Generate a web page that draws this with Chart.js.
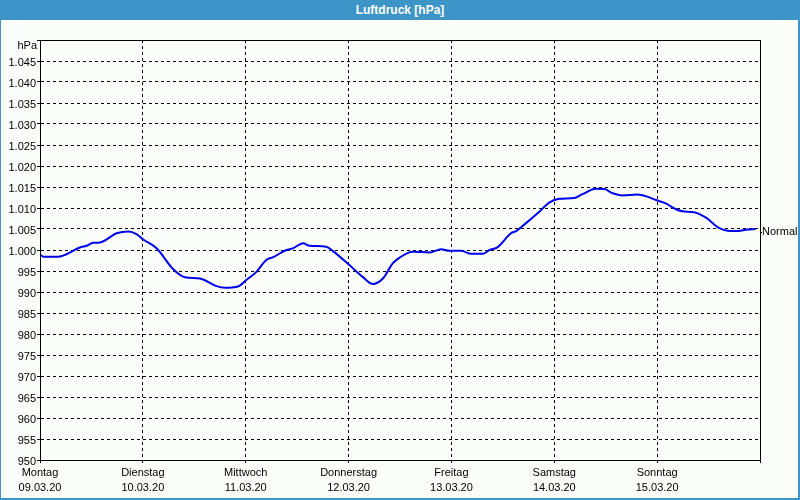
<!DOCTYPE html>
<html>
<head>
<meta charset="utf-8">
<script src="https://cdn.jsdelivr.net/npm/chart.js@4/dist/chart.umd.min.js"></script>
<style>
  body { margin: 0; background: #fbfdfb; }
  #wrap { position: relative; width: 800px; height: 500px; box-sizing: border-box;
          border-left: 1px solid #3d94c6; border-right: 2px solid #3d94c6; border-bottom: 2px solid #3d94c6;
          background: #fbfdfb; }
  #title { position: absolute; left: -1px; top: 0; width: 800px; height: 20px; background: #3d94c6;
           color: #fff; font: bold 12px "Liberation Sans", sans-serif; line-height: 20px; text-align: center; }
  #box { position: absolute; left: 0; top: 20px; width: 797px; height: 478px; }
</style>
</head>
<body>
<div id="wrap">
  <div id="title">Luftdruck [hPa]</div>
  <div id="box"><canvas id="pressureChart"></canvas></div>
</div>
<script>
const dayNames = ["Montag", "Dienstag", "Mittwoch", "Donnerstag", "Freitag", "Samstag", "Sonntag"]
const dayDates = ["09.03.20", "10.03.20", "11.03.20", "12.03.20", "13.03.20", "14.03.20", "15.03.20"]

// hours since Monday 00:00
const hours = [0, 0.8, 4.3, 6.2, 9.3, 10.9, 12.4, 14, 17.9, 20.6, 22.5, 24.1, 27.2, 31.1, 33.8, 37.3,
    41.2, 43.1, 46.2, 48.2, 50.5, 52.8, 54.4, 57.5, 59, 61.4, 62.9, 66.8, 68.3, 72.2, 75.3, 77.7,
    80, 82.3, 83.9, 87, 90.9, 93.6, 95.5, 98.3, 100.6, 103.3, 104.9, 106.8, 109.9, 111.1, 113.4, 116.5,
    118.8, 121.2, 124.7, 126.6, 129.7, 131.7, 133.6, 135.9, 139.4, 141.7, 143.7, 146, 148.4, 149.9,
    152.6, 155.4, 158.5, 160.4, 162.3, 164.7, 167]
const pressure = [998.9, 998.4, 998.4, 999.0, 1000.6, 1001.0, 1001.7, 1001.8, 1004.0, 1004.4, 1003.8, 1002.5, 1000.4, 995.4, 993.5, 993.2,
    991.4, 991.0, 991.3, 992.9, 994.8, 997.6, 998.3, 1000.0, 1000.4, 1001.6, 1001.0, 1000.8, 999.8, 996.4, 993.6, 991.9,
    993.2, 996.8, 998.2, 999.6, 999.4, 1000.2, 999.8, 999.8, 999.1, 999.1, 1000.0, 1000.7, 1004.0, 1004.5, 1006.4, 1009.1,
    1011.3, 1012.2, 1012.4, 1013.3, 1014.6, 1014.5, 1013.5, 1013.0, 1013.2, 1012.7, 1011.9, 1011.1, 1009.7, 1009.2,
    1009.0, 1007.7, 1005.2, 1004.6, 1004.5, 1004.8, 1005.0]
const normalValue = [1004.2]
const unitLabel = "hPa"

const points = hours.map((h, i) => ({ x: h, y: pressure[i] }))

const font = { family: "'Liberation Sans', sans-serif", size: 11 }

// solid black box round the plot area, plus the unit label above the y axis
const frame = {
    id: "frame",
    afterDraw(chart) {
        const a = chart.chartArea
        const ctx = chart.ctx
        ctx.save()
        ctx.setLineDash([])
        ctx.strokeStyle = "#000"
        ctx.lineWidth = 1
        ctx.strokeRect(Math.round(a.left) + 0.5, Math.round(a.top) + 0.5, Math.round(a.right - a.left), Math.round(a.bottom - a.top))
        ctx.fillStyle = "#000"
        ctx.font = "11px 'Liberation Sans', sans-serif"
        ctx.textAlign = "right"
        ctx.textBaseline = "middle"
        ctx.fillText(unitLabel, a.left - 3, a.top + 6)
        ctx.restore()
    }
}

new Chart(document.getElementById("pressureChart"), {
    type: "line",
    data: {
        datasets: [{
            data: points,
            borderColor: "rgb(0, 0, 232)",
            borderWidth: 2,
            pointRadius: 0,
            cubicInterpolationMode: "monotone"
        }]
    },
    options: {
        responsive: true,
        maintainAspectRatio: false,
        animation: false,
        layout: { padding: { top: 20, left: 0, right: 0, bottom: 0 } },
        plugins: { legend: { display: false }, tooltip: { enabled: false } },
        scales: {
            x: {
                type: "linear",
                min: 0,
                max: 168,
                afterFit: s => { s.height = 38 },
                ticks: {
                    stepSize: 24,
                    autoSkip: false,
                    maxRotation: 0,
                    color: "#000",
                    font: { ...font, lineHeight: 1.35 },
                    padding: 3,
                    callback: v => v < 168 ? [dayNames[v / 24], dayDates[v / 24]] : ""
                },
                grid: { color: "#000", tickLength: 3, tickBorderDash: [] },
                border: { color: "#000", dash: [3, 3] }
            },
            y: {
                min: 950,
                max: 1050,
                afterFit: s => { s.width = 39 },
                ticks: {
                    stepSize: 5,
                    color: "#000",
                    font: font,
                    padding: 1,
                    labelOffset: 2,
                    callback: v => v === 1050 ? "" : v >= 1000 ? "1." + String(v - 1000).padStart(3, "0") : String(v)
                },
                grid: { color: "#000", tickLength: 3, tickBorderDash: [] },
                border: { color: "#000", dash: [3, 3] }
            },
            y2: {
                position: "right",
                min: 950,
                max: 1050,
                afterFit: s => { s.width = 38 },
                afterBuildTicks: s => { s.ticks = normalValue.map(v => ({ value: v })) },
                ticks: { color: "#000", font: font, padding: 0, callback: () => "Normal" },
                grid: { drawOnChartArea: false, color: "#000", tickLength: 2 },
                border: { color: "#000" }
            }
        }
    },
    plugins: [frame]
})
</script>
</body>
</html>
